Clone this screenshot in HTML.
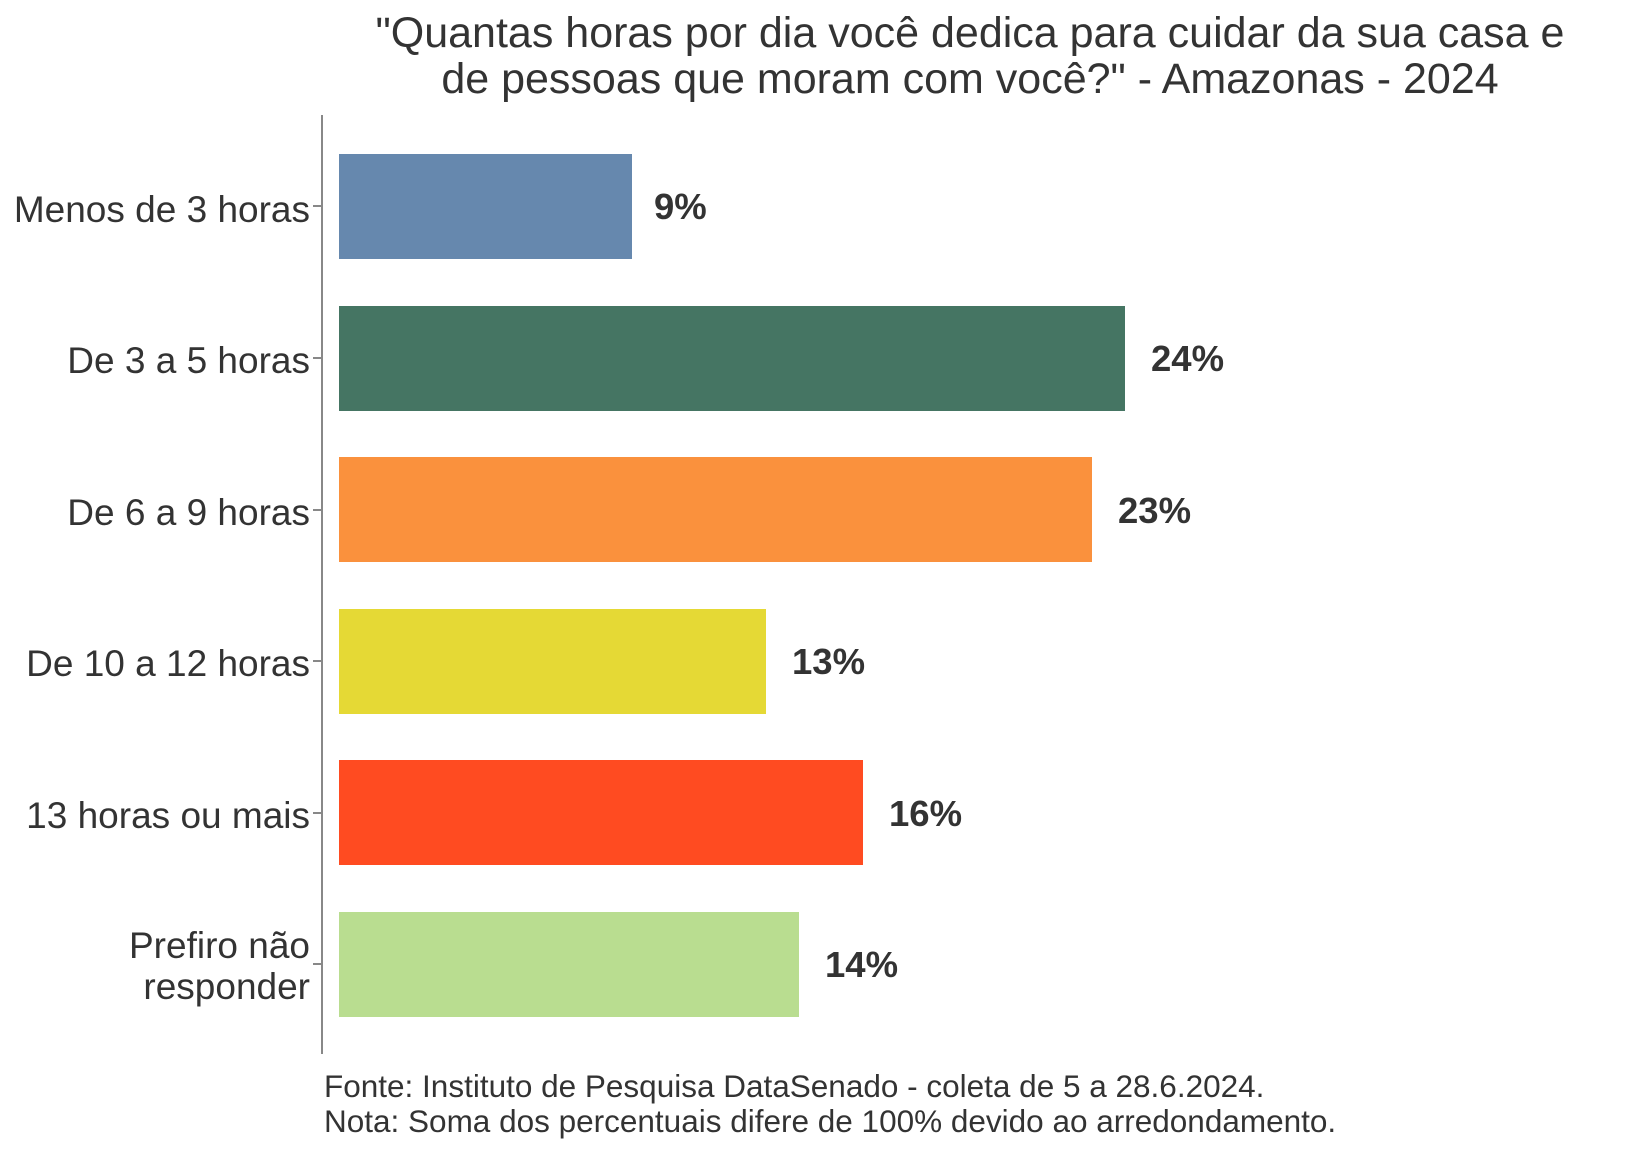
<!DOCTYPE html>
<html><head><meta charset="utf-8"><style>
body{margin:0;background:#fff;}
svg text{font-family:"Liberation Sans",sans-serif;fill:#333;}
</style></head><body>
<svg width="1632" height="1152" xmlns="http://www.w3.org/2000/svg">
<text x="970" y="47" font-size="43" text-anchor="middle">"Quantas horas por dia você dedica para cuidar da sua casa e</text>
<text x="970" y="93" font-size="43" text-anchor="middle">de pessoas que moram com você?" - Amazonas - 2024</text>
<line x1="322" y1="115" x2="322" y2="1054" stroke="#888" stroke-width="2"/>
<g stroke="#888" stroke-width="2">
<line x1="313" y1="206" x2="322" y2="206"/><line x1="313" y1="358" x2="322" y2="358"/>
<line x1="313" y1="510" x2="322" y2="510"/><line x1="313" y1="661" x2="322" y2="661"/>
<line x1="313" y1="813" x2="322" y2="813"/><line x1="313" y1="964" x2="322" y2="964"/>
</g>
<rect x="339" y="154" width="293" height="105" fill="#6688ae"/>
<rect x="339" y="306" width="786" height="105" fill="#457563"/>
<rect x="339" y="457" width="753" height="105" fill="#fa913d"/>
<rect x="339" y="609" width="427" height="105" fill="#e5d935"/>
<rect x="339" y="760" width="524" height="105" fill="#ff4b21"/>
<rect x="339" y="912" width="460" height="105" fill="#b9dd90"/>
<g font-size="36.5" font-weight="bold">
<text x="654" y="219">9%</text>
<text x="1151" y="371">24%</text>
<text x="1118" y="523">23%</text>
<text x="792" y="674">13%</text>
<text x="889" y="826">16%</text>
<text x="825" y="977">14%</text>
</g>
<g font-size="37" text-anchor="end">
<text x="310" y="222">Menos de 3 horas</text>
<text x="310" y="373">De 3 a 5 horas</text>
<text x="310" y="525">De 6 a 9 horas</text>
<text x="310" y="676">De 10 a 12 horas</text>
<text x="310" y="828">13 horas ou mais</text>
<text x="310" y="958">Prefiro não</text>
<text x="310" y="999">responder</text>
</g>
<text x="324" y="1097" font-size="31.5">Fonte: Instituto de Pesquisa DataSenado - coleta de 5 a 28.6.2024.</text>
<text x="324" y="1132" font-size="31.5">Nota: Soma dos percentuais difere de 100% devido ao arredondamento.</text>
</svg>
</body></html>
